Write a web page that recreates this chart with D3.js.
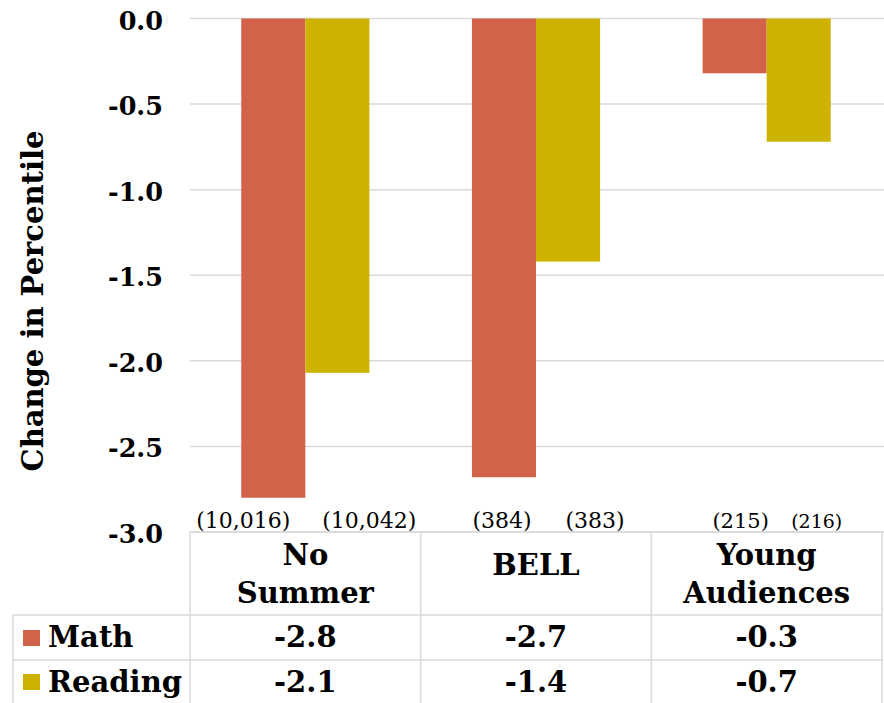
<!DOCTYPE html>
<html>
<head>
<meta charset="utf-8">
<script src="https://cdn.jsdelivr.net/npm/d3@7"></script>
<style>
  html, body { margin: 0; padding: 0; background: #fff; }
  svg { display: block; }
  text { font-family: "DejaVu Serif", Georgia, serif; fill: #000; }
</style>
</head>
<body>
<svg id="chart" width="884" height="703"></svg>
<script>
// ---- data ----
const categories = ["No Summer", "BELL", "Young Audiences"];
const seriesNames = ["Math", "Reading"];
const mathValues = [-2.80, -2.68, -0.32];
const readingValues = [-2.07, -1.42, -0.72];
const mathTable = ["-2.8", "-2.7", "-0.3"];
const readingTable = ["-2.1", "-1.4", "-0.7"];
const mathN = ["(10,016)", "(384)", "(215)"];
const readingN = ["(10,042)", "(383)", "(216)"];
const yTicks = [0, -0.5, -1.0, -1.5, -2.0, -2.5, -3.0];

// ---- layout / style ----
const colors = { Math: "#D2634A", Reading: "#CDB300" };
const gridColor = "#D9D9D9";
const W = 884, H = 703;
const plotLeft = 190, plotRight = 882, plotTop = 18.5, plotBottom = 532;
const legendLeft = 13;
const rowHeader = [532, 615], rowMath = [615, 660], rowReading = [660, 710];
const tableFont = 29;
// horizontal nudges of the sample-size annotations relative to bar centre
const nNudge = { Math: [-30, -2, 6], Reading: [32, 27, 18] };
const nSize = { Math: [22, 22, 21], Reading: [22, 22, 19] };

const svg = d3.select("#chart");

const y = d3.scaleLinear().domain([0, -3]).range([plotTop, plotBottom]);
const x = d3.scaleBand().domain(categories).range([plotLeft, plotRight]).paddingInner(0).paddingOuter(0);
const xs = d3.scaleBand().domain(seriesNames).range([0, x.bandwidth()]).paddingInner(0).paddingOuter(0.8);

// gridlines
svg.append("g").selectAll("line").data(yTicks).join("line")
  .attr("x1", plotLeft).attr("x2", W)
  .attr("y1", d => y(d)).attr("y2", d => y(d))
  .attr("stroke", gridColor).attr("stroke-width", 1.5);

// y axis labels
const yAxis = d3.axisLeft(y).tickValues(yTicks).tickSize(0).tickPadding(27)
  .tickFormat(d => Math.abs(d) < 1e-9 ? "0.0" : d.toFixed(1));
const ga = svg.append("g").attr("transform", `translate(${plotLeft},0)`).call(yAxis);
ga.select(".domain").remove();
ga.selectAll("text")
  .attr("font-family", "DejaVu Serif").attr("font-weight", "bold").attr("font-size", 25.5)
  .attr("dy", null).attr("y", 10.5).attr("fill", "#000");

// y title
svg.append("text")
  .attr("transform", `translate(43,301) rotate(-90)`)
  .attr("text-anchor", "middle")
  .attr("font-weight", "bold").attr("font-size", 29)
  .text("Change in Percentile");

// bars
const seriesData = { Math: mathValues, Reading: readingValues };
seriesNames.forEach(s => {
  svg.append("g").selectAll("rect").data(categories).join("rect")
    .attr("x", c => x(c) + xs(s))
    .attr("width", xs.bandwidth())
    .attr("y", y(0))
    .attr("height", (c, i) => y(seriesData[s][i]) - y(0))
    .attr("fill", colors[s]);
});

// sample sizes
const nData = { Math: mathN, Reading: readingN };
seriesNames.forEach(s => {
  svg.append("g").selectAll("text").data(categories).join("text")
    .attr("x", (c, i) => x(c) + xs(s) + xs.bandwidth() / 2 + nNudge[s][i])
    .attr("y", 528)
    .attr("text-anchor", "middle")
    .attr("font-size", (c, i) => nSize[s][i])
    .text((c, i) => nData[s][i]);
});

// data table lines
const tl = svg.append("g").attr("stroke", gridColor).attr("stroke-width", 1.5);
tl.append("line").attr("x1", plotLeft).attr("x2", plotRight).attr("y1", rowHeader[0]).attr("y2", rowHeader[0]);
[rowMath[0], rowReading[0]].forEach(yy =>
  tl.append("line").attr("x1", legendLeft).attr("x2", plotRight).attr("y1", yy).attr("y2", yy));
const vx = categories.map(c => x(c)).concat([x(categories[categories.length - 1]) + x.bandwidth()]);
vx.forEach(xx => tl.append("line").attr("x1", xx).attr("x2", xx).attr("y1", rowHeader[0]).attr("y2", H));
tl.append("line").attr("x1", legendLeft).attr("x2", legendLeft).attr("y1", rowMath[0]).attr("y2", H);

// header labels
const hdr = svg.append("g");
categories.forEach(c => {
  const words = c.split(" ");
  const cx = x(c) + x.bandwidth() / 2;
  const t = hdr.append("text").attr("text-anchor", "middle")
    .attr("font-weight", "bold").attr("font-size", tableFont);
  if (words.length === 1) {
    t.append("tspan").attr("x", cx).attr("y", 575).text(words[0]);
  } else {
    t.append("tspan").attr("x", cx).attr("y", 565).text(words[0]);
    t.append("tspan").attr("x", cx).attr("y", 603).text(words.slice(1).join(" "));
  }
});

// legend + row values
const rows = [
  { name: "Math", vals: mathTable, base: 647, keyTop: 630 },
  { name: "Reading", vals: readingTable, base: 692, keyTop: 674 }
];
rows.forEach(r => {
  svg.append("rect").attr("x", 23).attr("y", r.keyTop).attr("width", 17).attr("height", 16)
    .attr("fill", colors[r.name]);
  svg.append("text").attr("x", 48).attr("y", r.base)
    .attr("font-weight", "bold").attr("font-size", tableFont).text(r.name);
  svg.append("g").selectAll("text").data(categories).join("text")
    .attr("x", c => x(c) + x.bandwidth() / 2)
    .attr("y", r.base)
    .attr("text-anchor", "middle")
    .attr("font-weight", "bold").attr("font-size", tableFont)
    .text((c, i) => r.vals[i]);
});
</script>
</body>
</html>
